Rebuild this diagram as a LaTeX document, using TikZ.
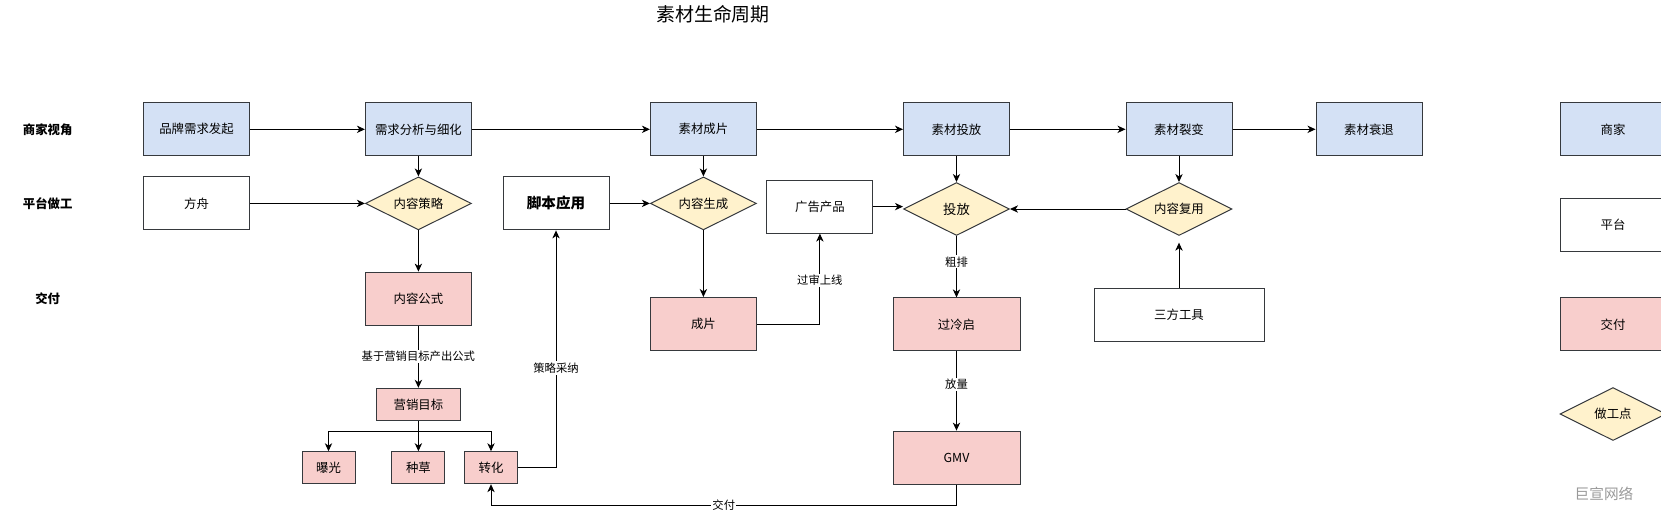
\documentclass[tikz,border=0pt]{standalone}
\usepackage{fontspec}
\setmainfont{Noto Sans CJK SC}
\usetikzlibrary{shapes.geometric,arrows.meta}
\definecolor{mblue}{HTML}{D4E1F5}
\definecolor{dpink}{HTML}{F8CECC}
\definecolor{wyellow}{HTML}{FFF2CC}
\definecolor{edgegray}{HTML}{36393D}

\begin{document}
\begin{tikzpicture}[x=0.75pt,y=-0.75pt,
  every node/.style={font=\fontsize{9.3}{11}\selectfont},
  box/.style={draw=edgegray,line width=0.75pt,minimum width=79.5pt,minimum height=39.75pt,inner sep=0pt},
  merchant/.style={box,fill=mblue},
  platform/.style={box,fill=white},
  deliver/.style={box,fill=dpink},
  small/.style={minimum width=39.75pt,minimum height=24pt},
  work/.style={diamond,aspect=2,draw=edgegray,line width=0.75pt,fill=wyellow,minimum width=79.5pt,minimum height=39.75pt,inner sep=0pt},
  rowlbl/.style={font=\fontsize{9.3}{11}\selectfont\bfseries},
  lbl/.style={fill=white,inner sep=1pt,font=\fontsize{8.5}{10}\selectfont},
  arr/.style={-{Stealth[length=6pt,width=5.5pt,inset=1.8pt]},line width=0.75pt}]
        \useasboundingbox (0,0) rectangle (1661,512);
        \clip (0,0) rectangle (1661,512);
        \node[font=\fontsize{14.2}{16}\selectfont] (title) at (713,14) {素材生命周期};
        \node[rowlbl] (rsj) at (47.7,129.3) {商家视角};
        \node[rowlbl] (rpt) at (47.7,203.4) {平台做工};
        \node[rowlbl] (rjf) at (47.7,299) {交付};

        \node[merchant] (ppxq) at (196.5,129.3) {品牌需求发起};
        \node[merchant] (xqfx) at (418.4,129.3) {需求分析与细化};
        \node[merchant] (sccp) at (703.4,129.3) {素材成片};
        \node[merchant] (sctf) at (956.5,129.3) {素材投放};
        \node[merchant] (sclb) at (1179,129.3) {素材裂变};
        \node[merchant] (scst) at (1369,129.3) {素材衰退};

        \node[platform] (fz) at (196.5,203.4) {方舟};
        \node[work] (nrcl) at (418.4,203.4) {内容策略};
        \node[platform,font=\fontsize{10.9}{13}\selectfont\bfseries] (jbyy) at (556,203.4) {脚本应用};
        \node[work] (nrsc) at (703.4,203.4) {内容生成};
        \node[platform] (ggcp) at (819.9,206.6) {广告产品};
        \node[work,font=\fontsize{10}{12}\selectfont] (tf) at (956.5,209) {投放};
        \node[work] (nrfy) at (1179,209) {内容复用};

        \node[deliver] (nrgs) at (418.4,298.6) {内容公式};
        \node[deliver,minimum width=63pt,minimum height=24pt] (yxmb) at (418.4,404.3) {营销目标};
        \node[deliver,small] (bg) at (328.5,467.7) {曝光};
        \node[deliver,small] (zc) at (418.4,467.7) {种草};
        \node[deliver,small] (zh) at (491,467.7) {转化};
        \node[deliver] (cp) at (703.4,324) {成片};
        \node[deliver,minimum width=95.25pt] (glq) at (956.5,324.4) {过冷启};
        \node[deliver,minimum width=95.25pt] (gmv) at (956.5,457.6) {GMV};
        \node[platform,minimum width=127.5pt] (sfgj) at (1179,314.6) {三方工具};

        \node[merchant] (lgsj) at (1613,129.3) {商家};
        \node[platform] (lgpt) at (1613,224.6) {平台};
        \node[deliver] (lgjf) at (1613,324.4) {交付};
        \node[work] (lgzg) at (1613,414) {做工点};
        \node[text=black!40,font=\fontsize{11}{13}\selectfont] (wm) at (1604,494) {巨宣网络};

        \coordinate (bus) at (418.4,431);
        \coordinate (jfc) at (956.5,505);

        \draw[arr] (ppxq) -- (xqfx);
        \draw[arr] (xqfx) -- (sccp);
        \draw[arr] (sccp) -- (sctf);
        \draw[arr] (sctf) -- (sclb);
        \draw[arr] (sclb) -- (scst);
        \draw[arr] (xqfx) -- (nrcl);
        \draw[arr] (fz) -- (nrcl);
        \draw[arr] (nrcl) -- (nrgs);
        \draw[arr] (nrgs) -- (yxmb) node[midway,lbl] {基于营销目标产出公式};
        \draw[arr] (yxmb) -- (zc);
        \draw[arr] (bus) -| (bg);
        \draw[arr] (bus) -| (zh);
        \draw[arr] (zh) -| (jbyy) node[pos=0.71,lbl] {策略采纳};
        \draw[arr] (jbyy) -- (nrsc);
        \draw[arr] (sccp) -- (nrsc);
        \draw[arr] (nrsc) -- (cp);
        \draw[arr] (cp) -| (ggcp) node[pos=0.74,lbl] {过审上线};
        \draw[arr] (ggcp.east) -- (ggcp.east -| tf.west);
        \draw[arr] (sctf) -- (tf);
        \draw[arr] (sclb) -- (nrfy);
        \draw[arr] (nrfy) -- (tf);
        \draw[arr,shorten >=5pt] (sfgj) -- (nrfy);
        \draw[arr] (tf) -- (glq) node[pos=0.42,lbl] {粗排};
        \draw[arr] (glq) -- (gmv) node[pos=0.42,lbl] {放量};
        \draw[arr] (gmv) -- (jfc) -| (zh) node[pos=0.25,lbl] {交付};
\end{tikzpicture}
\end{document}
